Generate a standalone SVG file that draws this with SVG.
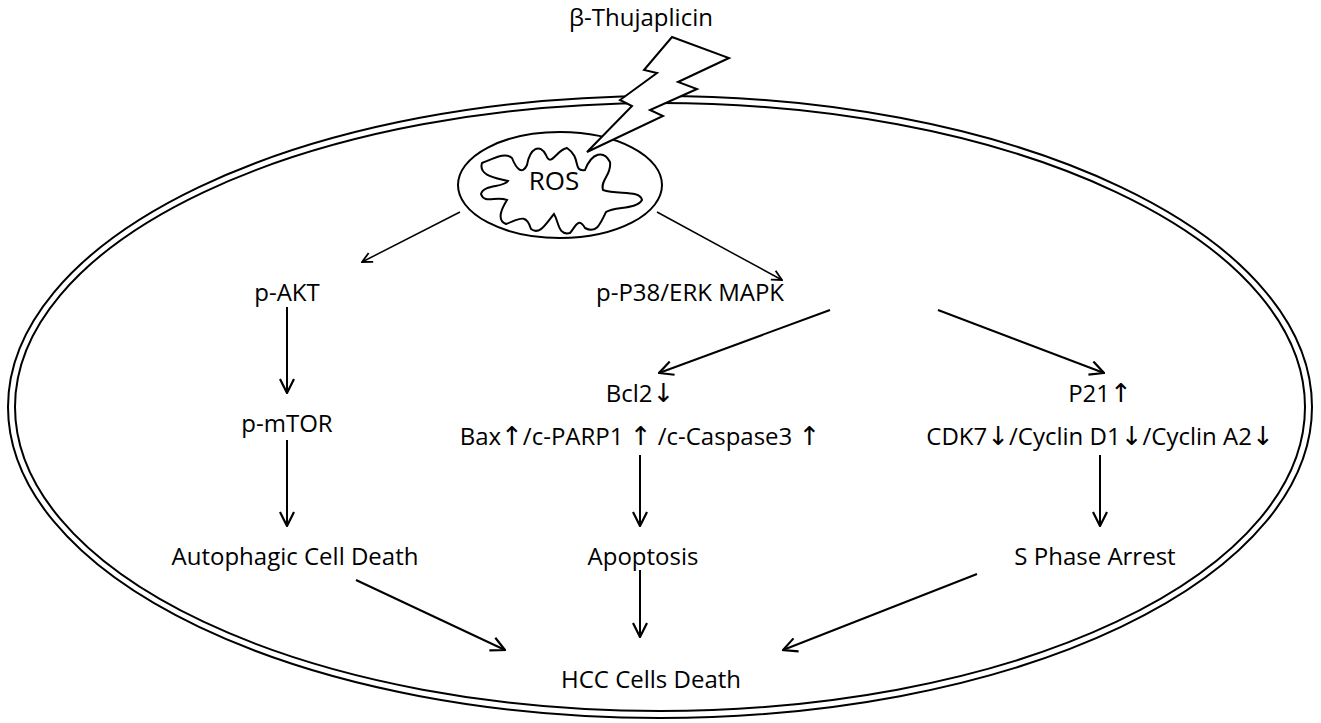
<svg xmlns="http://www.w3.org/2000/svg" width="1321" height="723" viewBox="0 0 1321 723">
<style>
text{font-family:"Open Sans","Liberation Sans",sans-serif;font-size:24px;fill:#000;text-anchor:middle}
.ar{font-family:"DejaVu Sans",sans-serif;font-size:26px;fill:#000}
.ln{fill:none;stroke:#000;stroke-width:2}
.thin{fill:none;stroke:#000;stroke-width:1.5}
</style>
<defs>
<marker id="ah" viewBox="0 0 12 12" refX="11" refY="6" markerWidth="12" markerHeight="12" markerUnits="userSpaceOnUse" orient="auto">
<polyline points="1,1 11,6 1,11" fill="none" stroke="#000" stroke-width="1.8"/>
</marker>
<marker id="ahb" viewBox="0 0 16 16" refX="15" refY="8" markerWidth="16" markerHeight="16" markerUnits="userSpaceOnUse" orient="auto">
<polyline points="1,1 15,8 1,15" fill="none" stroke="#000" stroke-width="2.2"/>
</marker>
</defs>
<rect width="1321" height="723" fill="#fff"/>
<g id="cell">
<ellipse cx="660" cy="407" rx="652" ry="311" class="ln"/>
<ellipse cx="660" cy="407" rx="645" ry="304" class="ln"/>
</g>
<g id="mito">
<ellipse cx="560" cy="185" rx="102" ry="53" fill="#fff" stroke="#000" stroke-width="2"/>
<path d="M482,163 C495,158 505,152 512,158 C516,168 522,176 527,165 C530,148 540,143 546,155 C551,168 556,150 567,148 C582,158 572,172 585,170 C592,152 604,150 610,162 C612,175 600,180 603,190 C618,195 640,190 642,200 C636,210 615,206 606,212 C600,225 596,234 585,228 C578,216 575,228 570,233 C558,236 559,222 554,214 C547,222 540,236 531,229 C526,212 518,220 506,224 C496,220 502,208 507,200 C496,196 484,204 481,194 C484,184 503,188 508,181 C497,178 478,176 482,163 Z" fill="#fff" stroke="#000" stroke-width="2"/>
<text x="554" y="190" style="font-size:26px">ROS</text>
</g>
<g id="bolt">
<polygon points="672,37 729,58 678,82 697,89 650,110 663,116 587,152 632,106 620,100 657,73 644,70" fill="#fff" stroke="#000" stroke-width="2"/>
</g>
<g id="connectors">
<line x1="460" y1="212" x2="362" y2="262" class="thin" marker-end="url(#ah)"/>
<line x1="657" y1="212" x2="782" y2="280" class="thin" marker-end="url(#ah)"/>
<line x1="287" y1="307" x2="287" y2="393" class="ln" marker-end="url(#ahb)"/>
<line x1="287" y1="440" x2="287" y2="526" class="ln" marker-end="url(#ahb)"/>
<line x1="830" y1="310" x2="659" y2="373" class="ln" marker-end="url(#ahb)"/>
<line x1="938" y1="310" x2="1104" y2="373" class="ln" marker-end="url(#ahb)"/>
<line x1="640" y1="455" x2="640" y2="526" class="ln" marker-end="url(#ahb)"/>
<line x1="1100" y1="455" x2="1100" y2="526" class="ln" marker-end="url(#ahb)"/>
<line x1="356" y1="580" x2="505" y2="650" class="ln" marker-end="url(#ahb)"/>
<line x1="640" y1="570" x2="640" y2="637" class="ln" marker-end="url(#ahb)"/>
<line x1="977" y1="574" x2="783" y2="650" class="ln" marker-end="url(#ahb)"/>
</g>
<g id="thujaplicin"><text x="641" y="26">β-Thujaplicin</text></g>
<g id="pakt"><text x="287" y="301">p-AKT</text></g>
<g id="pp38"><text x="690" y="301">p-P38/ERK MAPK</text></g>
<g id="bcl2"><text x="640" y="402">Bcl2<tspan class="ar">↓</tspan></text><text x="640" y="445">Bax<tspan class="ar">↑</tspan>/c-PARP1 <tspan class="ar">↑</tspan> /c-Caspase3 <tspan class="ar">↑</tspan></text></g>
<g id="p21"><text x="1100" y="402">P21<tspan class="ar">↑</tspan></text><text x="1100" y="445">CDK7<tspan class="ar">↓</tspan>/Cyclin D1<tspan class="ar">↓</tspan>/Cyclin A2<tspan class="ar">↓</tspan></text></g>
<g id="pmtor"><text x="287" y="432">p-mTOR</text></g>
<g id="autophagic"><text x="295" y="565">Autophagic Cell Death</text></g>
<g id="apoptosis"><text x="643" y="565">Apoptosis</text></g>
<g id="sphase"><text x="1095" y="565">S Phase Arrest</text></g>
<g id="hcc"><text x="651" y="688">HCC Cells Death</text></g>
</svg>
